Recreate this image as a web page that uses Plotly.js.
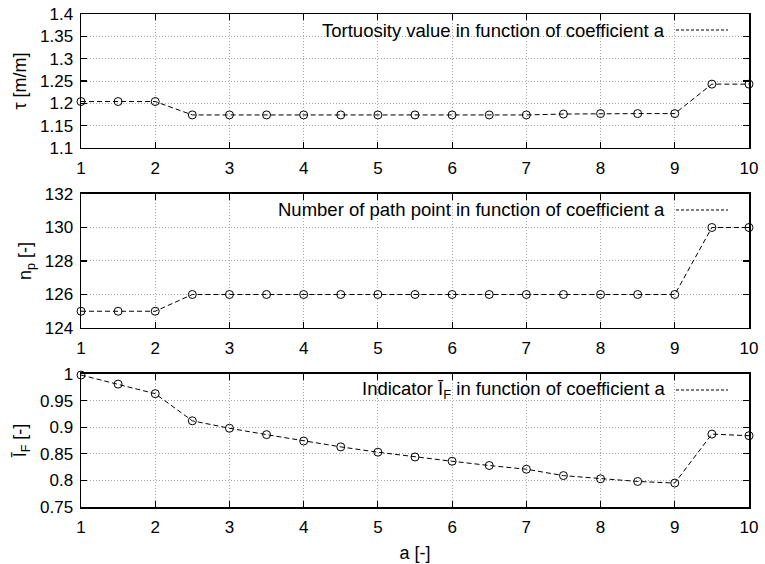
<!DOCTYPE html>
<html>
<head>
<meta charset="utf-8">
<script src="https://cdn.plot.ly/plotly-3.0.1.min.js"></script>
<style>
  html, body { margin: 0; padding: 0; background: #fff; }
  #chart { width: 765px; height: 564px; }
</style>
</head>
<body>
<div id="chart"></div>
<script>
// coefficient a
const coeffA = [1, 1.5, 2, 2.5, 3, 3.5, 4, 4.5, 5, 5.5, 6, 6.5, 7, 7.5, 8, 8.5, 9, 9.5, 10];

// tortuosity tau [m/m]
const tortuosity = [1.204, 1.204, 1.204, 1.174, 1.174, 1.174, 1.174, 1.174, 1.174, 1.174,
                    1.174, 1.174, 1.174, 1.176, 1.177, 1.177, 1.177, 1.243, 1.243];

// number of path points n_p
const pathPoints = [125, 125, 125, 126, 126, 126, 126, 126, 126, 126,
                    126, 126, 126, 126, 126, 126, 126, 130, 130];

// indicator I_F
const indicatorF = [0.998, 0.981, 0.963, 0.912, 0.898, 0.886, 0.874, 0.863, 0.853, 0.844,
                    0.836, 0.828, 0.821, 0.809, 0.803, 0.798, 0.795, 0.887, 0.884];

const seriesNames = [
  'Tortuosity value in function of coefficient a',
  'Number of path point in function of coefficient a',
  'Indicator Ī<sub>F</sub> in function of coefficient a'
];
const yTitles = ['τ [m/m]', 'n<sub>p</sub> [-]', 'Ī<sub>F</sub> [-]'];
const xTitle = 'a [-]';

const FONT = 'Liberation Sans, Arial, sans-serif';
const values = [tortuosity, pathPoints, indicatorF];
const axisIds = ['', '2', '3'];

const traces = [];
values.forEach((vals, i) => {
  traces.push({
    x: coeffA, y: vals, xaxis: 'x' + axisIds[i], yaxis: 'y' + axisIds[i],
    type: 'scatter', mode: 'lines+markers',
    line: { color: '#000', width: 1, dash: '5px,3px' },
    marker: { symbol: 'circle-open', size: 8, color: '#000', line: { width: 1, color: '#000' } },
    cliponaxis: false,
    showlegend: false,
    name: seriesNames[i].replace(/<[^>]+>/g, '')
  });
});

const domains = [[0.7282, 1], [0.3631, 0.6349], [0, 0.2698]];
const yRanges = [[1.1, 1.4], [124, 132], [0.75, 1.0]];
const yDticks = [0.05, 2, 0.05];

const common = {
  showline: true, linecolor: '#000', linewidth: 1.5, mirror: 'allticks',
  ticks: 'inside', ticklen: 6, tickwidth: 1.2, tickcolor: '#000',
  showgrid: true, gridcolor: '#a8a8a8', gridwidth: 1, griddash: '1px,2px',
  zeroline: false,
  tickfont: { family: FONT, size: 17, color: '#000' }
};

const layout = {
  width: 765, height: 564,
  margin: { l: 81, r: 16, t: 14, b: 57 },
  paper_bgcolor: '#fff', plot_bgcolor: '#fff',
  showlegend: false,
  font: { family: FONT, size: 17, color: '#000' },
  annotations: [], shapes: []
};

axisIds.forEach((id, i) => {
  const xa = Object.assign({}, common, {
    anchor: 'y' + id, range: [1, 10], dtick: 1, tick0: 1,
    ticklabelstandoff: 4
  });
  if (i === 2) {
    xa.title = { text: xTitle, font: { family: FONT, size: 18 }, standoff: 10 };
  }
  layout['xaxis' + id] = xa;
  layout['yaxis' + id] = Object.assign({}, common, {
    anchor: 'x' + id, domain: domains[i], range: yRanges[i], dtick: yDticks[i],
    tick0: yRanges[i][0], ticklabelstandoff: 3,
    title: { text: yTitles[i], font: { family: FONT, size: 18 }, standoff: 8 }
  });
  // key: label text followed by a dashed sample line
  const keyY = domains[i][1] - 16 / 493;
  layout.annotations.push({
    xref: 'paper', yref: 'paper', x: (667 - 81) / 668, y: keyY,
    xanchor: 'right', yanchor: 'middle', showarrow: false,
    text: seriesNames[i], font: { family: FONT, size: 18.5, color: '#000' }
  });
  layout.shapes.push({
    type: 'line', xref: 'paper', yref: 'paper',
    x0: (676 - 81) / 668, x1: (728 - 81) / 668, y0: keyY, y1: keyY,
    line: { color: '#000', width: 1, dash: '3px,2px' }
  });
});

Plotly.newPlot('chart', traces, layout, { staticPlot: true });
</script>
</body>
</html>
